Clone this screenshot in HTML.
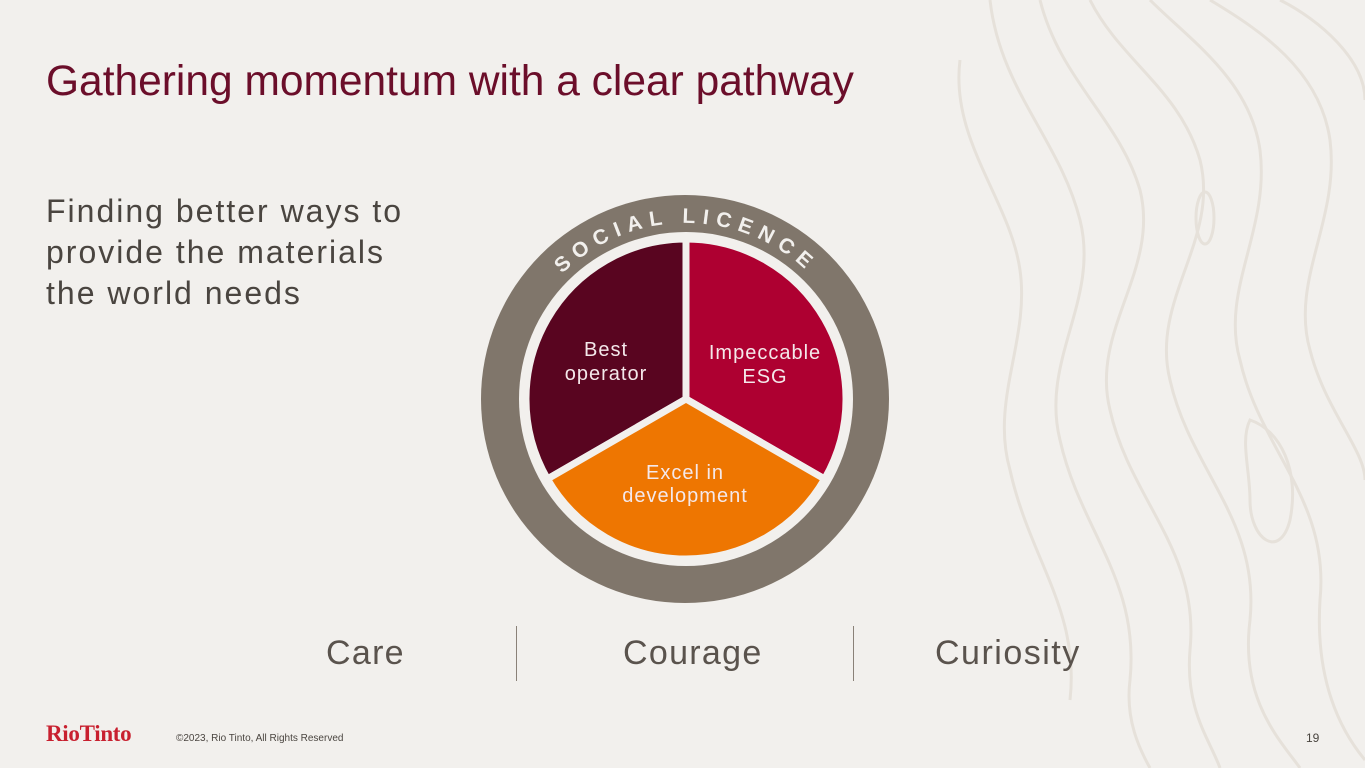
<!DOCTYPE html>
<html><head><meta charset="utf-8"><style>
body{margin:0;width:1365px;height:768px;background:#f2f0ed;position:relative;overflow:hidden;font-family:"Liberation Sans",sans-serif}
.t{position:absolute;white-space:nowrap}
</style></head><body>
<svg width="1365" height="768" style="position:absolute;left:0;top:0" fill="none" stroke="#e6e1da" stroke-width="3">
<path d="M1090 0 C1120 60 1180 90 1200 160 C1220 240 1150 300 1170 380 C1190 470 1260 520 1250 620 C1240 700 1280 740 1300 768"/>
<path d="M1040 0 C1060 80 1120 120 1140 190 C1160 270 1090 330 1110 410 C1130 500 1200 550 1190 650 C1185 710 1210 740 1220 768"/>
<path d="M990 0 C1000 90 1060 140 1080 220 C1100 300 1040 360 1060 440 C1080 530 1140 580 1130 680 C1125 720 1140 750 1150 768"/>
<path d="M960 60 C950 140 1010 200 1020 270 C1030 340 990 400 1010 470 C1030 560 1080 610 1070 700"/>
<path d="M1150 0 C1190 40 1250 80 1260 150 C1270 230 1220 290 1240 360 C1260 450 1330 500 1320 600 C1315 680 1340 730 1365 760"/>
<path d="M1210 0 C1260 30 1320 70 1330 140 C1340 220 1290 280 1310 350 C1325 410 1365 450 1365 480"/>
<path d="M1280 0 C1320 20 1365 60 1365 100"/>
<ellipse cx="1205" cy="218" rx="9" ry="26"/>
<path d="M1250 420 C1280 430 1300 470 1290 520 C1280 560 1250 540 1250 500 C1250 470 1240 440 1250 420Z"/>
</svg>
<div class="t" style="left:46px;top:58px;font-size:42.5px;color:#6b0e2a">Gathering momentum with a clear pathway</div>
<div class="t" style="left:46px;top:191px;font-size:32px;line-height:41px;color:#4a4540;letter-spacing:2px">Finding better ways to<br>provide the materials<br>the world needs</div>
<svg width="1365" height="768" style="position:absolute;left:0;top:0">
<circle cx="685" cy="399" r="204" fill="#80766b"/>
<circle cx="686" cy="399" r="167" fill="#f2f0ed"/>
<g stroke="#f2f0ed" stroke-width="7" stroke-linejoin="miter">
<path d="M686 399 L547.4 479 A160 160 0 0 1 686 239 Z" fill="#590520"/>
<path d="M686 399 L686 239 A160 160 0 0 1 824.6 479 Z" fill="#ae0031"/>
<path d="M686 399 L824.6 479 A160 160 0 0 1 547.4 479 Z" fill="#ee7601"/>
</g>
<defs><path id="arc" d="M533.6 487 A176 176 0 1 1 838.4 487"/></defs>
<text font-family="Liberation Sans,sans-serif" font-weight="bold" font-size="21" fill="#f2f0ed" letter-spacing="7"><textPath href="#arc" startOffset="50%" text-anchor="middle">SOCIAL LICENCE</textPath></text>
<g font-family="Liberation Sans,sans-serif" font-size="20" fill="#f4e8ea" text-anchor="middle" letter-spacing="1">
<text x="606" y="356">Best</text><text x="606" y="380">operator</text>
<text x="765" y="359">Impeccable</text><text x="765" y="383">ESG</text>
<text x="685" y="479">Excel in</text><text x="685" y="502">development</text>
</g>
<line x1="516.5" y1="626" x2="516.5" y2="681" stroke="#8a8178" stroke-width="1"/>
<line x1="853.5" y1="626" x2="853.5" y2="681" stroke="#8a8178" stroke-width="1"/>
</svg>
<div class="t" style="left:326px;top:634px;font-size:34px;color:#5a534d;letter-spacing:1.3px">Care</div>
<div class="t" style="left:623px;top:634px;font-size:34px;color:#5a534d;letter-spacing:1.3px">Courage</div>
<div class="t" style="left:935px;top:634px;font-size:34px;color:#5a534d;letter-spacing:1.5px">Curiosity</div>
<div class="t" style="left:46px;top:721px;font-size:23px;font-weight:bold;font-family:'Liberation Serif',serif;color:#c8202f;letter-spacing:-0.3px">RioTinto</div>
<div class="t" style="left:176px;top:733px;font-size:10px;color:#4a4540">©2023, Rio Tinto, All Rights Reserved</div>
<div class="t" style="left:1306px;top:731px;font-size:12px;color:#4a4540">19</div>
</body></html>
